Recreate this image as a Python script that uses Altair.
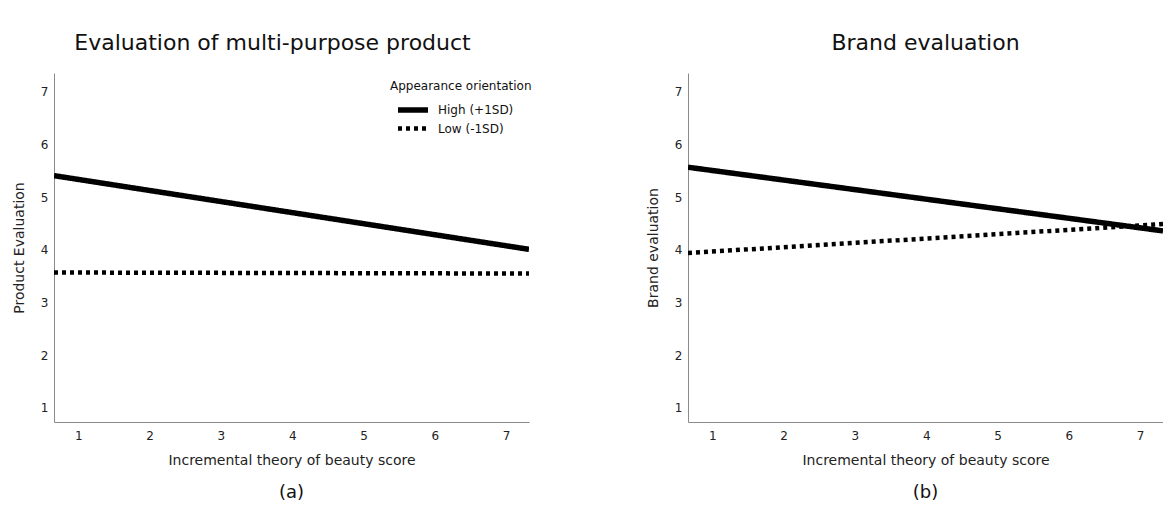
import altair as alt
import pandas as pd

FONT = "DejaVu Sans"

# ---- data ----
series = ["High (+1SD)", "Low (-1SD)"]
x_ends = [0.66, 7.32]            # regression lines span the whole x range
a_high = [5.41, 4.01]
a_low = [3.57, 3.55]
b_high = [5.57, 4.36]
b_low = [3.94, 4.49]
tick_vals = [1, 2, 3, 4, 5, 6, 7]

X_DOMAIN = [0.66, 7.32]
Y_DOMAIN = [0.73, 7.36]
W, H = 475, 349


def frame(high, low):
    rows = []
    for x, y in zip(x_ends, high):
        rows.append({"x": x, "y": y, "group": series[0]})
    for x, y in zip(x_ends, low):
        rows.append({"x": x, "y": y, "group": series[1]})
    return pd.DataFrame(rows)


def panel(high, low, title, ytitle, caption, title_dx=0):
    df = frame(high, low)
    lines = alt.Chart(df).mark_line(color="black", clip=True).encode(
        x=alt.X("x:Q",
                scale=alt.Scale(domain=X_DOMAIN, nice=False, zero=False),
                axis=alt.Axis(values=tick_vals, title="Incremental theory of beauty score",
                              grid=False, ticks=False, domainColor="#8a8a8a",
                              labelPadding=8, titlePadding=12,
                              labelFontSize=12, titleFontSize=14,
                              labelColor="#222", titleColor="#222",
                              titleFontWeight="normal", labelFont=FONT, titleFont=FONT)),
        y=alt.Y("y:Q",
                scale=alt.Scale(domain=Y_DOMAIN, nice=False, zero=False),
                axis=alt.Axis(values=tick_vals, title=ytitle,
                              grid=False, ticks=False, domainColor="#8a8a8a",
                              labelPadding=6, titlePadding=14,
                              labelFontSize=12, titleFontSize=14,
                              labelColor="#222", titleColor="#222",
                              titleFontWeight="normal", labelFont=FONT, titleFont=FONT)),
        strokeDash=alt.StrokeDash(
            "group:N",
            scale=alt.Scale(domain=series, range=[[1, 0], [4, 4]]),
            legend=alt.Legend(title="Appearance orientation", orient="none",
                              legendX=336, legendY=8,
                              symbolType="M-3,0H3", symbolSize=100,
                              symbolOffset=15,
                              symbolStrokeWidth=5.5, symbolStrokeColor="black",
                              rowPadding=-3, labelOffset=17,
                              titleFontSize=12, labelFontSize=12,
                              titleFontWeight="normal", titleFont=FONT, labelFont=FONT,
                              titleColor="#111", labelColor="#111", titlePadding=9)),
        strokeWidth=alt.StrokeWidth(
            "group:N",
            scale=alt.Scale(domain=series, range=[5.5, 4.5]),
            legend=None),
    )
    cap = alt.Chart(pd.DataFrame({"caption": [caption]})).mark_text(
        font=FONT, fontSize=18, color="#111", baseline="middle", align="center"
    ).encode(text="caption:N", x=alt.value(W / 2), y=alt.value(H + 71))
    return alt.layer(lines, cap).properties(
        width=W, height=H,
        title=alt.TitleParams(title, font=FONT, fontSize=22, fontWeight="normal",
                              color="#111", anchor="middle", offset=18, dx=title_dx),
    )


left = panel(a_high, a_low, "Evaluation of multi-purpose product", "Product Evaluation", "(a)", title_dx=-19)
right = panel(b_high, b_low, "Brand evaluation", "Brand evaluation", "(b)")

chart = alt.hconcat(left, right, spacing=117).properties(
    padding={"left": 4, "top": 24, "right": 0, "bottom": 0},
    background="white",
).configure_view(strokeWidth=0, stroke="transparent")

chart.save("out.html", embed_options={"renderer": "svg", "actions": False})
